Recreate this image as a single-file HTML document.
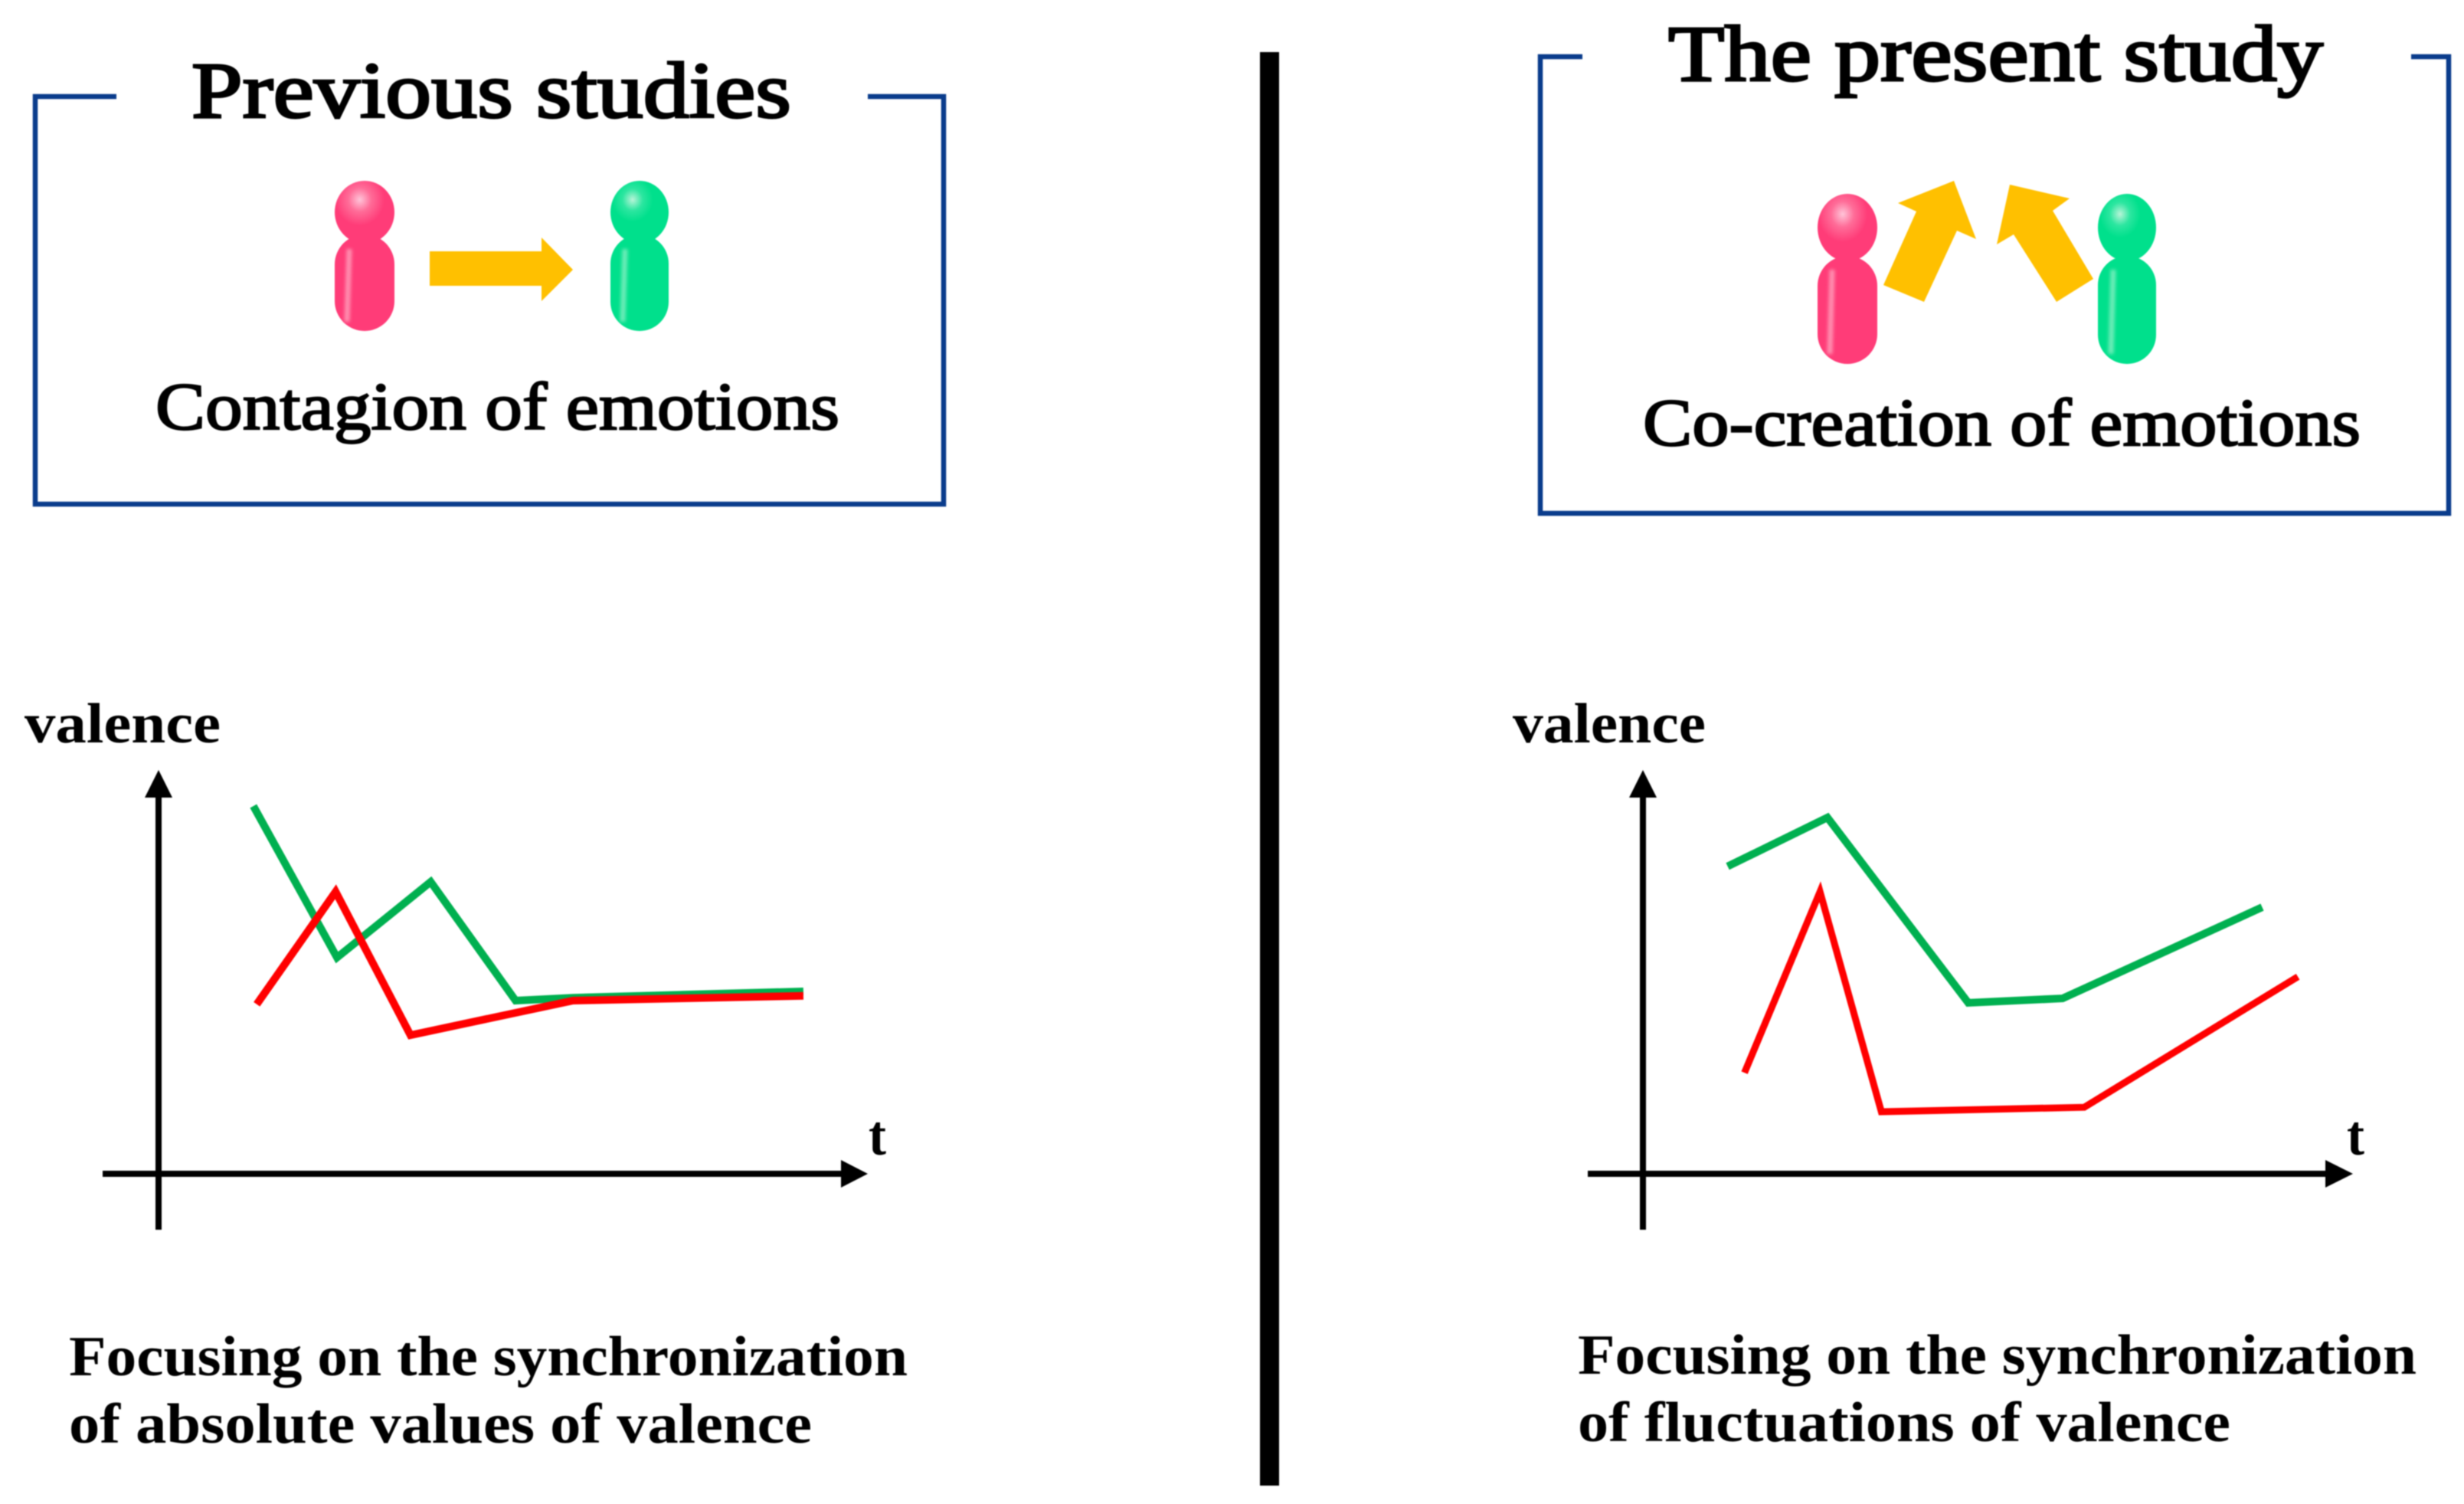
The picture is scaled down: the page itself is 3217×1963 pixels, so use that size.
<!DOCTYPE html>
<html lang="en">
<head>
<meta charset="utf-8">
<title>Contagion versus co-creation of emotions</title>
<style>
html,body{margin:0;padding:0;background:#fff;width:3217px;height:1963px;overflow:hidden}
svg{display:block;filter:blur(0.7px)}
text{font-family:"Liberation Serif","DejaVu Serif",serif;fill:#000}
.title{font-size:104px;font-weight:400;stroke:#000;stroke-width:3px}
.sub{font-size:88px;font-weight:400;stroke:#000;stroke-width:2.2px}
.lab{font-size:74px;font-weight:700}
.foot{font-size:74px;font-weight:700}
.box{fill:none;stroke:#0a3c8c;stroke-width:6.5}
.axis{stroke:#000;stroke-width:8;fill:none}
.shine{fill:none;stroke-width:7;filter:blur(2px)}
</style>
</head>
<body>
<svg id="figure" xmlns="http://www.w3.org/2000/svg" width="3217" height="1963" viewBox="0 0 3217 1963">
<defs>
<radialGradient id="pinkHead" cx="0.42" cy="0.3" r="0.55"><stop offset="0" stop-color="#ffc4d8"/><stop offset="0.35" stop-color="#ff6c98"/><stop offset="0.75" stop-color="#ff3c78"/></radialGradient>
<radialGradient id="greenHead" cx="0.38" cy="0.3" r="0.5"><stop offset="0" stop-color="#b8f4d8"/><stop offset="0.35" stop-color="#2ce6a0"/><stop offset="0.7" stop-color="#00e08c"/></radialGradient>
</defs>
<rect width="3217" height="1963" fill="#fff"/>

<g>
<path class="box" d="M152 126H46V658H1232V126H1133"/>
<text class="title" x="250" y="153" textLength="783" lengthAdjust="spacingAndGlyphs">Previous studies</text>
<g>
<rect x="437" y="306" width="78" height="126" rx="39" fill="#ff3c78"/>
<ellipse cx="476" cy="277" rx="39" ry="41" fill="url(#pinkHead)"/>
<path class="shine" d="M456 325L453 420" stroke="#ff8fb0"/>
</g>
<polygon fill="#ffc000" points="561,328 707,328 707,310 748,352 707,393 707,373 561,373"/>
<g>
<rect x="797" y="306" width="76" height="126" rx="38" fill="#00e08c"/>
<ellipse cx="835" cy="277" rx="38" ry="41" fill="url(#greenHead)"/>
<path class="shine" d="M816 325L813 420" stroke="#6cecb8"/>
</g>
<text class="sub" x="203" y="560" textLength="893" lengthAdjust="spacingAndGlyphs">Contagion of emotions</text>
</g>

<rect x="1645" y="68" width="25" height="1871" fill="#000"/>

<g>
<path class="box" d="M2066 74H2011V670H3197V74H3148"/>
<text class="title" x="2178" y="105" textLength="855" lengthAdjust="spacingAndGlyphs">The present study</text>
<g>
<rect x="2373" y="334" width="78" height="141" rx="39" fill="#ff3c78"/>
<ellipse cx="2412" cy="297" rx="39" ry="44" fill="url(#pinkHead)"/>
<path class="shine" d="M2392 352L2389 462" stroke="#ff8fb0"/>
</g>
<polygon fill="#ffc000" points="2459,372 2512,394 2555,301 2580,312 2551,236 2478,265 2502,276"/>
<polygon fill="#ffc000" points="2733,364 2685,394 2629,306 2607,319 2624,241 2702,259 2680,275"/>
<g>
<rect x="2739" y="334" width="76" height="141" rx="38" fill="#00e08c"/>
<ellipse cx="2777" cy="297" rx="38" ry="44" fill="url(#greenHead)"/>
<path class="shine" d="M2759 352L2756 462" stroke="#6cecb8"/>
</g>
<text class="sub" x="2145" y="581" textLength="937" lengthAdjust="spacingAndGlyphs">Co-creation of emotions</text>
</g>

<g id="left-chart">
<path class="axis" d="M207 1605V1035"/>
<polygon points="207,1005 225,1041 189,1041"/>
<path class="axis" d="M134 1532H1105"/>
<polygon points="1133,1532 1098,1550 1098,1514"/>
<text class="lab" x="32" y="969" textLength="256" lengthAdjust="spacingAndGlyphs">valence</text>
<text class="lab" x="1134" y="1507" textLength="23" lengthAdjust="spacingAndGlyphs">t</text>
</g>
<text class="foot" x="90" y="1795" textLength="1095" lengthAdjust="spacingAndGlyphs">Focusing on the synchronization</text>
<text class="foot" x="90" y="1883" textLength="970" lengthAdjust="spacingAndGlyphs">of absolute values of valence</text>

<g id="right-chart">
<path class="axis" d="M2145 1605V1035"/>
<polygon points="2145,1005 2163,1041 2127,1041"/>
<path class="axis" d="M2073 1532H3044"/>
<polygon points="3072,1532 3036,1550 3036,1514"/>
<text class="lab" x="1975" y="969" textLength="252" lengthAdjust="spacingAndGlyphs">valence</text>
<text class="lab" x="3064" y="1507" textLength="23" lengthAdjust="spacingAndGlyphs">t</text>
</g>
<text class="foot" x="2060" y="1793" textLength="1095" lengthAdjust="spacingAndGlyphs">Focusing on the synchronization</text>
<text class="foot" x="2060" y="1881" textLength="852" lengthAdjust="spacingAndGlyphs">of fluctuations of valence</text>
</svg>

<script>
// Left chart data (t, valence) in axis units
var leftGreenTime = [1.43, 2.67, 4.06, 5.32, 6.17, 9.59];
var leftGreenValence = [10.04, 5.92, 7.98, 4.75, 4.83, 5.0];
var leftRedTime = [1.48, 2.65, 3.76, 6.17, 9.59];
var leftRedValence = [4.65, 7.71, 3.81, 4.75, 4.88];
// Right chart data (t, valence) in axis units
var rightGreenTime = [1.28, 2.76, 4.85, 6.25, 9.21];
var rightGreenValence = [8.40, 9.73, 4.69, 4.81, 7.29];
var rightRedTime = [1.53, 2.65, 3.56, 6.57, 9.74];
var rightRedValence = [2.79, 7.71, 1.73, 1.85, 5.40];

var PX_PER_T = 88;
var PX_PER_VALENCE = 48;
var AXIS_Y = 1534;
var LEFT_ORIGIN_X = 205;
var RIGHT_ORIGIN_X = 2143;
var SVG_NS = 'http://www.w3.org/2000/svg';

function xScale(originX, t) { return originX + t * PX_PER_T; }
function yScale(v) { return AXIS_Y - v * PX_PER_VALENCE; }

function drawSeries(groupId, originX, times, values, color, width, name) {
  var pts = times.map(function (t, i) {
    return xScale(originX, t).toFixed(1) + ',' + yScale(values[i]).toFixed(1);
  }).join(' ');
  var el = document.createElementNS(SVG_NS, 'polyline');
  el.setAttribute('points', pts);
  el.setAttribute('fill', 'none');
  el.setAttribute('stroke', color);
  el.setAttribute('stroke-width', width);
  el.setAttribute('stroke-linejoin', 'miter');
  
  
  document.getElementById(groupId).appendChild(el);
}

drawSeries('left-chart', LEFT_ORIGIN_X, leftGreenTime, leftGreenValence, '#00b050', 10, 'left-green-line');
drawSeries('left-chart', LEFT_ORIGIN_X, leftRedTime, leftRedValence, '#ff0000', 10, 'left-red-line');
drawSeries('right-chart', RIGHT_ORIGIN_X, rightGreenTime, rightGreenValence, '#00b050', 10, 'right-green-line');
drawSeries('right-chart', RIGHT_ORIGIN_X, rightRedTime, rightRedValence, '#ff0000', 9, 'right-red-line');
</script>
</body>
</html>
